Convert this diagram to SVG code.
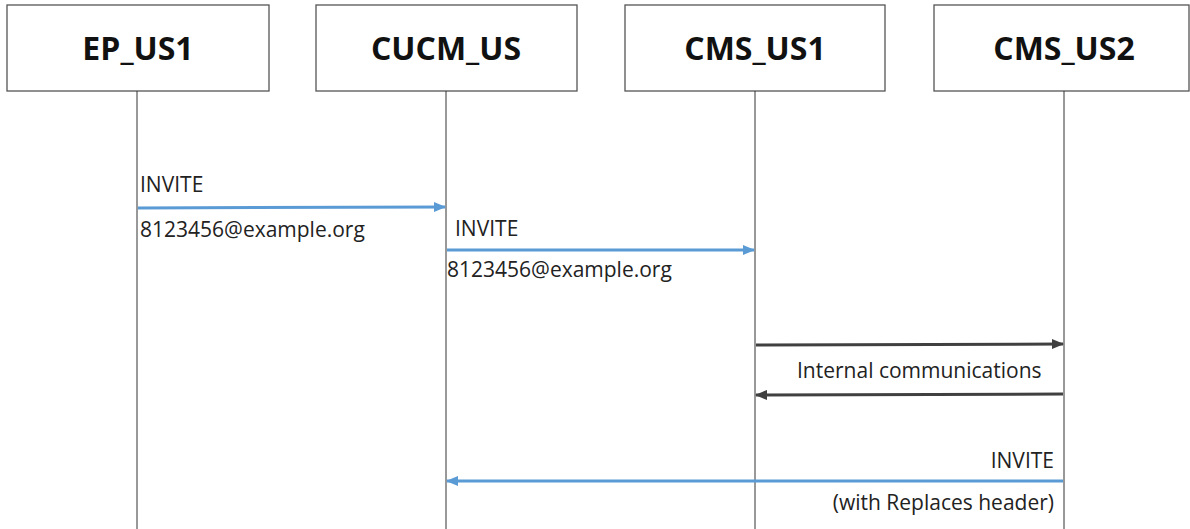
<svg xmlns="http://www.w3.org/2000/svg" width="1190" height="529" viewBox="0 0 1190 529">
<style>
.box{fill:#fff;stroke:#555;stroke-width:1.3}
.title{font-family:"Open Sans","Liberation Sans",sans-serif;font-weight:bold;font-size:32px;fill:#111;text-anchor:middle}
.life{stroke:#333;stroke-width:1}
.lbl{font-family:"Open Sans","Liberation Sans",sans-serif;font-size:21px;fill:#222}
.blue{stroke:#5B9BD5;stroke-width:3;fill:none}
.dark{stroke:#404040;stroke-width:3;fill:none}
</style>
<defs>
<marker id="ab" markerWidth="12" markerHeight="10" refX="11" refY="5" orient="auto" markerUnits="userSpaceOnUse"><path d="M0,0 L12,5 L0,10 Z" fill="#5B9BD5"/></marker>
<marker id="ad" markerWidth="12" markerHeight="10" refX="11" refY="5" orient="auto" markerUnits="userSpaceOnUse"><path d="M0,0 L12,5 L0,10 Z" fill="#404040"/></marker>
</defs>
<rect width="1190" height="529" fill="#fff"/>
<g id="ep_us1"><rect class="box" x="7" y="5" width="262" height="86"/><text class="title" x="138" y="60">EP_US1</text><line class="life" x1="137" y1="91" x2="137" y2="529"/></g>
<g id="cucm_us"><rect class="box" x="316" y="5" width="261" height="86"/><text class="title" x="446" y="60">CUCM_US</text><line class="life" x1="446" y1="91" x2="446" y2="529"/></g>
<g id="cms_us1"><rect class="box" x="625" y="5" width="260" height="86"/><text class="title" x="755" y="60">CMS_US1</text><line class="life" x1="755" y1="91" x2="755" y2="529"/></g>
<g id="cms_us2"><rect class="box" x="934" y="5" width="255" height="86"/><text class="title" x="1064" y="60">CMS_US2</text><line class="life" x1="1064" y1="91" x2="1064" y2="529"/></g>
<g id="connectors">
<line class="blue" x1="138" y1="208" x2="445" y2="207" marker-end="url(#ab)"/>
<text class="lbl" x="140" y="192">INVITE</text>
<text class="lbl" x="140" y="237">8123456@example.org</text>
<line class="blue" x1="447" y1="250" x2="754" y2="250" marker-end="url(#ab)"/>
<text class="lbl" x="455" y="236">INVITE</text>
<text class="lbl" x="447" y="277">8123456@example.org</text>
<line class="dark" x1="756" y1="345" x2="1063" y2="344" marker-end="url(#ad)"/>
<text class="lbl" x="797" y="378">Internal communications</text>
<line class="dark" x1="1063" y1="394" x2="756" y2="395" marker-end="url(#ad)"/>
<line class="blue" x1="1063" y1="481" x2="447" y2="481" marker-end="url(#ab)"/>
<text class="lbl" x="1054" y="468" text-anchor="end">INVITE</text>
<text class="lbl" x="1054" y="510" text-anchor="end">(with Replaces header)</text>
</g>
</svg>
